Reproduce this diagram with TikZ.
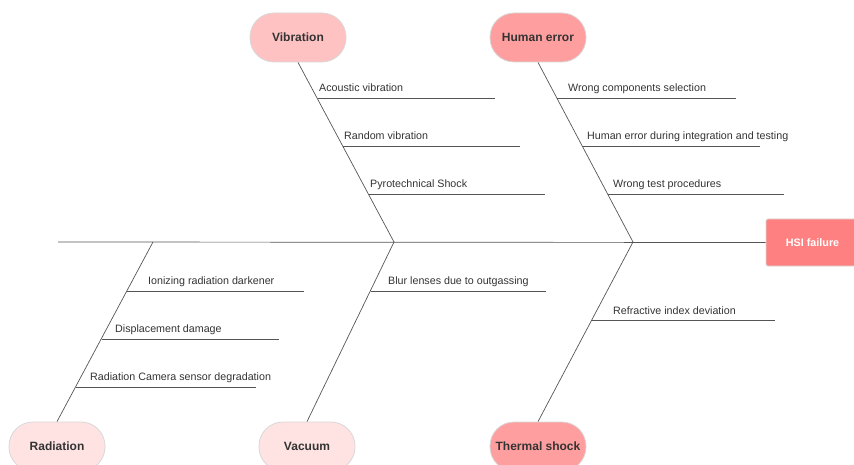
\documentclass[tikz,border=0pt]{standalone}
\usepackage{fontspec}
\setmainfont{Liberation Sans}
\usetikzlibrary{calc}
\definecolor{inkc}{HTML}{333333}
\definecolor{bonec}{HTML}{555555}
\definecolor{pinkA}{HTML}{FFC2C2}
\definecolor{pinkB}{HTML}{FF9E9E}
\definecolor{pinkC}{HTML}{FFE3E3}
\definecolor{headc}{HTML}{FF8080}
\definecolor{edgec}{HTML}{D8D8D8}
\tikzset{
  cause/.style={draw=edgec, line width=0.8pt, rounded corners=24pt,
    minimum width=96pt, minimum height=49pt, inner sep=0pt,
    font=\bfseries\fontsize{12}{14}\selectfont, text=inkc},
  headbox/.style={draw=edgec, line width=0.8pt, fill=headc, rounded corners=1.5pt,
    minimum width=90pt, minimum height=47pt, inner sep=0pt,
    font=\bfseries\fontsize{10.8}{13}\selectfont, text=white},
  bone/.style={draw=bonec, line width=0.7pt},
  lbl/.style={anchor=base west, inner sep=0pt, text=inkc,
    font=\fontsize{10.7}{12}\selectfont}
}
\begin{document}
\begin{tikzpicture}[x=1pt,y=-1pt]
\useasboundingbox (0,0) rectangle (854,465);

% head and spine
\node[headbox] (hsi) at (811,242.5) {\hspace*{3pt}HSI failure};
\coordinate (tail) at (58,242);
\coordinate (jA) at (153,242);
\coordinate (jB) at (394,242);
\coordinate (jC) at (633,242);
\draw[bone] (tail) -- (hsi.west);

% cause categories
\node[cause, fill=pinkA] (vib) at (298,37.5) {\raisebox{0.8pt}{Vibration}};
\node[cause, fill=pinkB] (hum) at (538,37.5) {\raisebox{0.8pt}{Human error}};
\node[cause, fill=pinkC] (rad) at (57,446.5) {\raisebox{0.8pt}{Radiation}};
\node[cause, fill=pinkC] (vac) at (307,446.5) {\raisebox{0.8pt}{Vacuum}};
\node[cause, fill=pinkB] (thm) at (538,446.5) {\raisebox{0.8pt}{Thermal shock}};

% main bones
\draw[bone] (vib.south) -- (jB);
\draw[bone] (hum.south) -- (jC);
\draw[bone] (rad.north) -- (jA);
\draw[bone] (vac.north) -- (jB);
\draw[bone] (thm.north) -- (jC);

% Vibration branches
\coordinate (v1) at (317.5,98);  \coordinate (v1e) at (495,98);
\coordinate (v2) at (343,146);   \coordinate (v2e) at (520,146);
\coordinate (v3) at (368.5,194); \coordinate (v3e) at (545,194);
\draw[bone] (v1) -- (v1e);
\draw[bone] (v2) -- (v2e);
\draw[bone] (v3) -- (v3e);
\node[lbl] (tv1) at (319,92) {Acoustic vibration};
\node[lbl] (tv2) at (344,139.5) {Random vibration};
\node[lbl] (tv3) at (370,188) {Pyrotechnical Shock};

% Human error branches
\coordinate (h1) at (557,98);  \coordinate (h1e) at (736,98);
\coordinate (h2) at (583,146); \coordinate (h2e) at (760,146);
\coordinate (h3) at (608,194); \coordinate (h3e) at (784,194);
\draw[bone] (h1) -- (h1e);
\draw[bone] (h2) -- (h2e);
\draw[bone] (h3) -- (h3e);
\node[lbl] (th1) at (568,92) {Wrong components selection};
\node[lbl] (th2) at (587,140) {Human error during integration and testing};
\node[lbl] (th3) at (613,188) {Wrong test procedures};

% Radiation branches
\coordinate (r1) at (127,291); \coordinate (r1e) at (304,291);
\coordinate (r2) at (101.5,339); \coordinate (r2e) at (279,339);
\coordinate (r3) at (76,387);  \coordinate (r3e) at (256,387);
\draw[bone] (r1) -- (r1e);
\draw[bone] (r2) -- (r2e);
\draw[bone] (r3) -- (r3e);
\node[lbl] (tr1) at (148,284.5) {Ionizing radiation darkener};
\node[lbl] (tr2) at (115,332) {Displacement damage};
\node[lbl] (tr3) at (90,380) {Radiation Camera sensor degradation};

% Vacuum branch
\coordinate (a1) at (370.5,291); \coordinate (a1e) at (546,291);
\draw[bone] (a1) -- (a1e);
\node[lbl] (ta1) at (388,284.5) {Blur lenses due to outgassing};

% Thermal shock branch
\coordinate (s1) at (591,320); \coordinate (s1e) at (775,320);
\draw[bone] (s1) -- (s1e);
\node[lbl] (ts1) at (613,314.5) {Refractive index deviation};
\end{tikzpicture}
\end{document}
